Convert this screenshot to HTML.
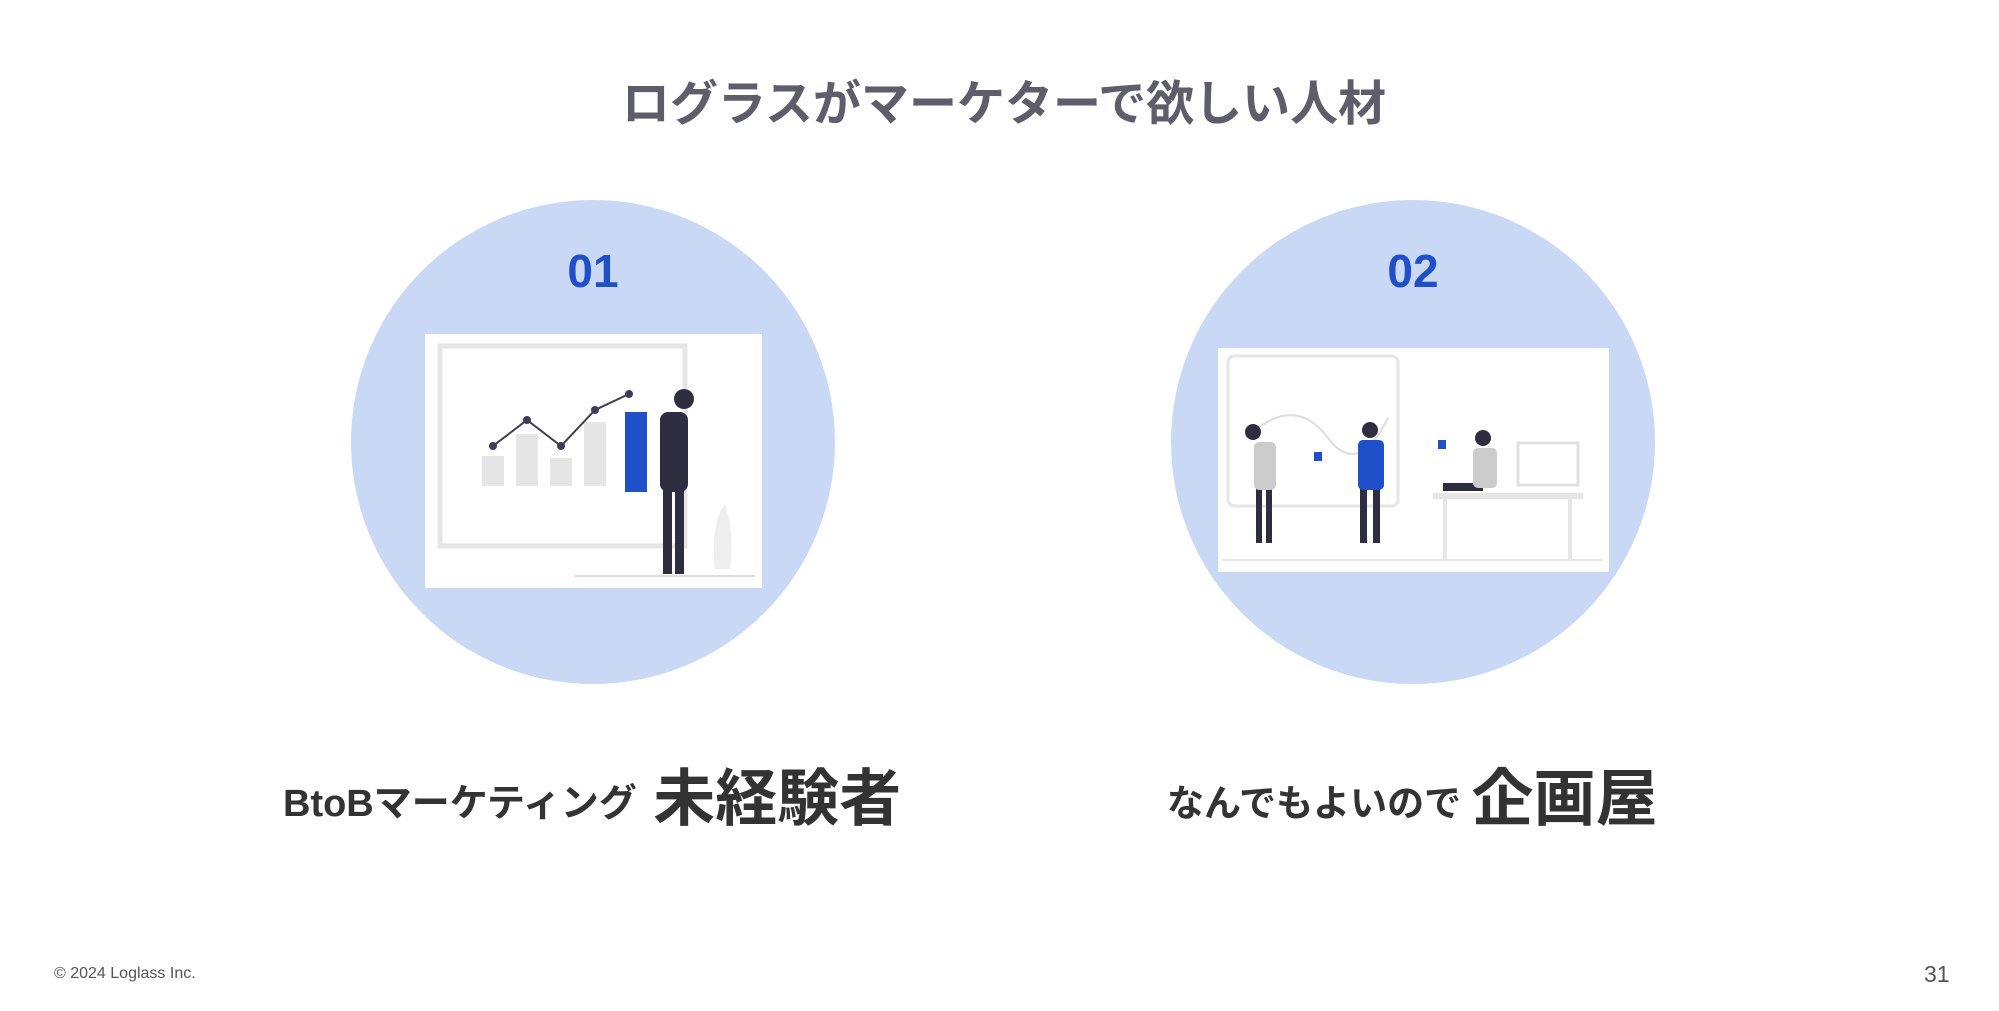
<!DOCTYPE html>
<html><head><meta charset="utf-8"><style>
body{margin:0;width:1999px;height:1011px;background:#fff;position:relative;overflow:hidden;font-family:"Liberation Sans","Noto Sans CJK JP",sans-serif}
.t{position:absolute;white-space:nowrap}
.c{position:absolute;width:484px;height:484px;border-radius:50%;background:#c9d9f5}
.n{position:absolute;color:#1f4fc9;font-weight:bold;font-size:46px;transform:translateX(-50%)}
</style></head><body>
<div class="t" style="left:0;width:2008px;text-align:center;top:64px;font-size:48px;font-weight:bold;color:#5e5e6a">ログラスがマーケターで欲しい人材</div>
<div class="c" style="left:351px;top:200px"></div>
<div class="c" style="left:1171px;top:200px"></div>
<div class="n" style="left:593px;top:244px">01</div>
<div class="n" style="left:1413px;top:244px">02</div>
<svg style="position:absolute;left:425px;top:334px" width="337" height="254">
<rect width="337" height="254" fill="#fff"/>
<rect x="15" y="12" width="245" height="200" fill="none" stroke="#e6e6e6" stroke-width="5"/>
<rect x="57" y="122" width="22" height="30" fill="#e6e6e6"/><rect x="91" y="100" width="22" height="52" fill="#e6e6e6"/>
<rect x="125" y="124" width="22" height="28" fill="#e6e6e6"/><rect x="159" y="88" width="22" height="64" fill="#e6e6e6"/>
<polyline points="68,112 102,86 136,112 170,76 204,60" fill="none" stroke="#3f3d56" stroke-width="2"/>
<g fill="#3f3d56"><circle cx="68" cy="112" r="4"/><circle cx="102" cy="86" r="4"/><circle cx="136" cy="112" r="4"/><circle cx="170" cy="76" r="4"/><circle cx="204" cy="60" r="4"/></g>
<rect x="200" y="78" width="22" height="80" fill="#1f4fc9"/>
<circle cx="259" cy="65" r="10" fill="#2f2e41"/>
<rect x="235" y="78" width="28" height="80" rx="8" fill="#2f2e41"/>
<rect x="238" y="150" width="9" height="90" fill="#2f2e41"/><rect x="250" y="150" width="9" height="90" fill="#2f2e41"/>
<path d="M290,235 Q285,190 300,170 Q310,200 305,235Z" fill="#eee"/>
<line x1="150" y1="242" x2="330" y2="242" stroke="#ddd" stroke-width="2"/>
</svg>
<svg style="position:absolute;left:1218px;top:348px" width="391" height="224">
<rect width="391" height="224" fill="#fff"/>
<rect x="10" y="8" width="170" height="150" rx="6" fill="none" stroke="#e6e6e6" stroke-width="3"/>
<path d="M40,80 Q80,50 110,90 T170,70" fill="none" stroke="#ddd" stroke-width="2"/>
<g fill="#2f2e41"><circle cx="35" cy="84" r="8"/><rect x="38" y="140" width="6" height="55"/><rect x="48" y="140" width="6" height="55"/>
<circle cx="152" cy="82" r="8"/><rect x="142" y="140" width="7" height="55"/><rect x="155" y="140" width="7" height="55"/>
<circle cx="265" cy="90" r="8"/><rect x="225" y="135" width="40" height="8"/></g>
<rect x="36" y="94" width="22" height="48" rx="5" fill="#ccc"/>
<rect x="140" y="92" width="26" height="50" rx="5" fill="#1f4fc9"/>
<rect x="255" y="100" width="24" height="40" rx="5" fill="#ccc"/>
<rect x="215" y="145" width="150" height="6" fill="#e6e6e6"/>
<rect x="300" y="95" width="60" height="42" fill="#fff" stroke="#e0e0e0" stroke-width="3"/>
<rect x="225" y="151" width="4" height="60" fill="#e6e6e6"/><rect x="350" y="151" width="4" height="60" fill="#e6e6e6"/>
<line x1="5" y1="212" x2="385" y2="212" stroke="#e6e6e6" stroke-width="2"/>
<rect x="96" y="104" width="8" height="9" fill="#1f4fc9"/><rect x="220" y="92" width="8" height="9" fill="#1f4fc9"/>
</svg>
<div class="t" style="left:283px;top:775px;font-size:38px;font-weight:bold;color:#333;line-height:50px">BtoBマーケティング <span style="font-size:62px;vertical-align:-4px;margin-left:6px">未経験者</span></div>
<div class="t" style="left:1167px;top:775px;font-size:37px;font-weight:bold;color:#333;line-height:50px">なんでもよいので <span style="font-size:62px;vertical-align:-4px">企画屋</span></div>
<div class="t" style="left:54px;top:965px;font-size:16px;color:#555">© 2024 Loglass Inc.</div>
<div class="t" style="left:1924px;top:961px;font-size:23px;color:#555">31</div>
</body></html>
